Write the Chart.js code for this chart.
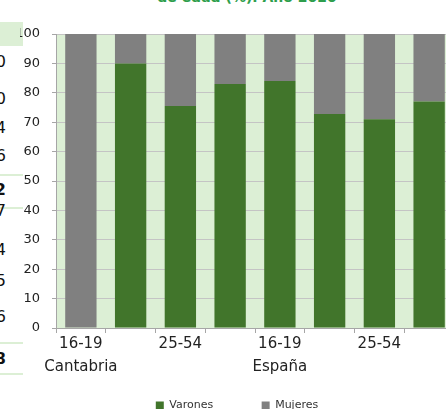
<!DOCTYPE html>
<html>
<head>
<meta charset="utf-8">
<script src="https://cdn.jsdelivr.net/npm/chart.js@4.4.1/dist/chart.umd.min.js"></script>
<style>
  body { margin: 0; background: #fff; overflow: hidden; }
  #wrap { position: relative; width: 446px; height: 409px; overflow: hidden; }
  #box { position: absolute; left: 0; top: 0; width: 454px; height: 421px; }
  .title { position: absolute; left: 0; width: 494px; top: -11px; text-align: center;
           font: bold 14px "DejaVu Sans", sans-serif; color: #2e9e4c; }
  .frag { position: absolute; right: 440px; font: 16px "DejaVu Sans", sans-serif; color: #111; }
  .band { position: absolute; left: 0; width: 23px; background: #dcefd5; }
</style>
</head>
<body>
<div id="wrap">
  <div class="title">de edad (%). Año 2020</div>
  <div class="band" style="top:22px;height:24px"></div>
  <div class="band" style="top:174px;height:2px"></div>
  <div class="band" style="top:207px;height:2px"></div>
  <div class="band" style="top:342px;height:2px"></div>
  <div class="band" style="top:373px;height:2px"></div>
  <div id="frags"></div>
  <div id="box"><canvas id="myChart"></canvas></div>
</div>
<script>
const ages = ["16-19", "20-24", "25-54", "55 y más", "16-19", "20-24", "25-54", "55 y más"];
const regions = ["Cantabria", "", "", "", "España", "", "", ""];
const varones = [0, 90, 75.5, 83, 84, 72.8, 71, 77];
const mujeres = [100, 10, 24.5, 17, 16, 27.2, 29, 23];
const yTicks = [0, 10, 20, 30, 40, 50, 60, 70, 80, 90, 100];

// trozos de la tabla vecina que asoman por la izquierda
const fragDigits = ["0", "0", "4", "6", "2", "7", "4", "5", "6", "8"];
const fragBold = [false, false, false, false, true, false, false, false, false, true];
const fragTop = [52, 89, 118, 146, 180, 201, 240, 271, 307, 349];

const frags = document.getElementById("frags");
fragDigits.forEach((d, i) => {
  const s = document.createElement("div");
  s.className = "frag";
  s.textContent = d;
  s.style.top = fragTop[i] + "px";
  if (fragBold[i]) s.style.fontWeight = "bold";
  frags.appendChild(s);
});

const plotBg = {
  id: "plotBg",
  beforeDraw(chart) {
    const { ctx, chartArea } = chart;
    ctx.save();
    ctx.fillStyle = "#dcefd5";
    ctx.fillRect(chartArea.left, chartArea.top, chartArea.right - chartArea.left, chartArea.bottom - chartArea.top);
    ctx.restore();
  }
};

new Chart(document.getElementById("myChart"), {
  type: "bar",
  data: {
    labels: ages.map((a, i) => regions[i] ? [a, regions[i]] : a),
    datasets: [
      { label: "Varones", data: varones, backgroundColor: "#41752b" },
      { label: "Mujeres", data: mujeres, backgroundColor: "#808080" }
    ]
  },
  options: {
    responsive: true,
    maintainAspectRatio: false,
    animation: false,
    layout: { padding: { top: 34, right: 0, left: 20, bottom: 0 } },
    datasets: { bar: { categoryPercentage: 1, barPercentage: 0.63 } },
    scales: {
      x: {
        stacked: true,
        grid: { offset: true, drawOnChartArea: false, tickLength: 5, color: "#a6a6a6" },
        border: { color: "#a6a6a6" },
        ticks: {
          color: "#222", font: { family: "DejaVu Sans", size: 15, lineHeight: 1.5 },
          maxRotation: 0, autoSkip: false, padding: 0,
          callback: function (v, i) { return i % 2 === 0 ? this.getLabelForValue(v) : ""; }
        },
        afterFit: s => { s.height = 62; }
      },
      y: {
        stacked: true,
        min: 0, max: 100,
        afterBuildTicks: s => { s.ticks = yTicks.map(v => ({ value: v })); },
        grid: { color: "#c4c4c4", tickLength: 4, tickColor: "#a6a6a6" },
        border: { color: "#a6a6a6" },
        ticks: { color: "#222", font: { family: "DejaVu Sans", size: 13 }, padding: 12 },
        afterFit: s => { s.width = 36; }
      }
    },
    plugins: {
      legend: {
        position: "bottom",
        labels: {
          font: { family: "DejaVu Sans", size: 11 }, color: "#333", boxWidth: 8, boxHeight: 8, padding: 10,
          generateLabels: chart => {
            const items = Chart.defaults.plugins.legend.labels.generateLabels(chart);
            items[0].text += "\u00a0".repeat(11);
            return items;
          }
        }
      },
      tooltip: { enabled: false }
    }
  },
  plugins: [plotBg]
});
</script>
</body>
</html>
